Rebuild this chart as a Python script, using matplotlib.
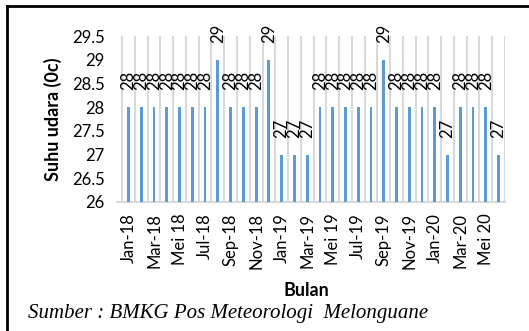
import matplotlib.pyplot as plt
from matplotlib.lines import Line2D
import numpy as np

# monthly air temperature, Jan-18 .. Jun-20
months = ['Jan-18', 'Feb-18', 'Mar-18', 'Apr-18', 'Mei 18', 'Jun-18', 'Jul-18', 'Agu-18',
          'Sep-18', 'Okt-18', 'Nov-18', 'Des-18', 'Jan-19', 'Feb-19', 'Mar-19', 'Apr-19',
          'Mei 19', 'Jun-19', 'Jul-19', 'Agu-19', 'Sep-19', 'Okt-19', 'Nov-19', 'Des-19',
          'Jan-20', 'Feb-20', 'Mar-20', 'Apr-20', 'Mei 20', 'Jun-20']
suhu = [28, 28, 28, 28, 28, 28, 28, 29, 28, 28, 28, 29, 27, 27, 27,
        28, 28, 28, 28, 28, 29, 28, 28, 28, 28, 27, 28, 28, 28, 27]

plt.rcParams['font.family'] = ['Lato', 'DejaVu Sans']

fig = plt.figure(figsize=(5.29, 3.31), dpi=100)
ax = fig.add_axes([117/529, 1 - 202/331, (505-117)/529, (202-36)/331])

x = np.arange(len(months))
ax.bar(x, suhu, width=0.22, color='#5B9BD5', zorder=3)

for xi, v in zip(x, suhu):
    ax.annotate(str(v), (xi, v), xytext=(0, 12), textcoords='offset points',
                rotation=90, ha='center', va='bottom', fontsize=12, clip_on=False)

# category boundary gridlines
for g in np.arange(-0.5, len(months), 1.0):
    ax.axvline(g, color='#D9D9D9', lw=1.5, zorder=1)

ax.set_xlim(-0.9, len(months) - 0.5)
ax.set_ylim(26, 29.5)
ax.set_yticks(np.arange(26, 29.51, 0.5))
ax.set_yticklabels(['26', '26.5', '27', '27.5', '28', '28.5', '29', '29.5'], fontsize=12)
ax.set_xticks(x[::2])
ax.set_xticklabels(months[::2], rotation=90, fontsize=12)
ax.tick_params(axis='both', length=0)
ax.tick_params(axis='y', pad=9)
ax.tick_params(axis='x', pad=8)

for s in ['left', 'right', 'top']:
    ax.spines[s].set_visible(False)
ax.spines['bottom'].set_color('#D9D9D9')
ax.spines['bottom'].set_linewidth(1.5)

fig.text(53/529, 1 - 119/331, 'Suhu udara (0c)', rotation=90, ha='center', va='center',
         fontsize=13, fontweight='bold')
fig.text(306/529, 1 - 290/331, 'Bulan', ha='center', va='center', fontsize=13, fontweight='bold')

fig.text(28/529, 1 - 318/331, 'Sumber : BMKG Pos Meteorologi  Melonguane',
         family='Liberation Serif', style='italic', fontsize=15, ha='left', va='baseline')

# frame (top and left edges only)
fig.add_artist(Line2D([7/529, 1], [1 - 6/331, 1 - 6/331], color='black', lw=2))
fig.add_artist(Line2D([7/529, 7/529], [0, 1 - 6/331], color='black', lw=2))

fig.savefig('out.png', dpi=100)
